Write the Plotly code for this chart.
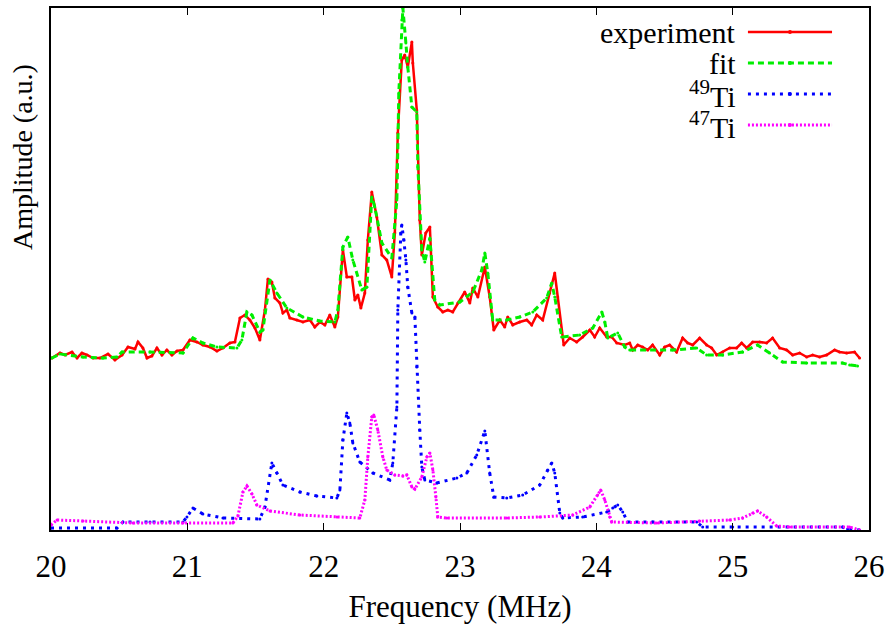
import plotly.graph_objects as go

# ---------------- data (frequency in MHz, amplitude in a.u.) ----------------
freq_exp = [20.007, 20.066, 20.103, 20.154, 20.191, 20.227, 20.264, 20.308, 20.359, 20.418,
            20.469, 20.521, 20.565, 20.616, 20.638, 20.674, 20.704, 20.740, 20.777, 20.814,
            20.850, 20.887, 20.924, 20.968, 21.019, 21.070, 21.114, 21.166, 21.217, 21.261,
            21.312, 21.349, 21.386, 21.422, 21.459, 21.496, 21.532, 21.569, 21.591, 21.620,
            21.642, 21.679, 21.701, 21.730, 21.752, 21.804, 21.848, 21.899, 21.935, 21.972,
            22.009, 22.045, 22.082, 22.104, 22.141, 22.170, 22.207, 22.229, 22.251, 22.273,
            22.302, 22.324, 22.353, 22.390, 22.427, 22.463, 22.500, 22.522, 22.544, 22.573,
            22.595, 22.617, 22.647, 22.654, 22.683, 22.705, 22.720, 22.749, 22.779, 22.801,
            22.837, 22.874, 22.911, 22.947, 22.984, 23.035, 23.072, 23.094, 23.131, 23.182,
            23.218, 23.248, 23.292, 23.328, 23.350, 23.387, 23.438, 23.490, 23.526, 23.563,
            23.607, 23.658, 23.695, 23.717, 23.761, 23.805, 23.856, 23.900, 23.952, 23.988,
            24.025, 24.076, 24.113, 24.150, 24.208, 24.245, 24.267, 24.304, 24.340, 24.377,
            24.413, 24.465, 24.501, 24.538, 24.589, 24.633, 24.670, 24.707, 24.758, 24.809,
            24.846, 24.883, 24.927, 24.978, 25.029, 25.066, 25.103, 25.147, 25.198, 25.249,
            25.293, 25.345, 25.396, 25.440, 25.491, 25.543, 25.587, 25.638, 25.689, 25.748,
            25.784, 25.836, 25.894, 25.931]
amp_exp = [1.72, 1.77, 1.75, 1.78, 1.72, 1.77, 1.75, 1.72, 1.72, 1.76,
           1.70, 1.75, 1.83, 1.81, 1.88, 1.82, 1.72, 1.74, 1.82, 1.75,
           1.80, 1.75, 1.79, 1.80, 1.90, 1.88, 1.85, 1.83, 1.79, 1.82,
           1.87, 1.88, 2.12, 2.15, 2.10, 2.02, 1.90, 2.20, 2.51, 2.48,
           2.32, 2.27, 2.17, 2.20, 2.12, 2.10, 2.08, 2.10, 2.03, 2.08,
           2.05, 2.15, 2.03, 2.13, 2.80, 2.53, 2.53, 2.30, 2.35, 2.22,
           2.37, 2.90, 3.38, 3.13, 2.75, 2.70, 2.53, 2.97, 3.97, 4.70,
           4.75, 4.63, 4.88, 4.67, 4.20, 3.10, 2.75, 2.97, 3.03, 2.33,
           2.23, 2.18, 2.20, 2.18, 2.27, 2.38, 2.27, 2.42, 2.33, 2.63,
           2.33, 2.00, 2.10, 2.03, 2.13, 2.05, 2.08, 2.10, 2.05, 2.15,
           2.10, 2.37, 2.57, 2.33, 1.85, 1.92, 1.88, 1.93, 2.00, 1.93,
           2.02, 1.93, 1.93, 1.87, 1.85, 1.87, 1.80, 1.85, 1.83, 1.80,
           1.85, 1.75, 1.83, 1.85, 1.78, 1.92, 1.87, 1.85, 1.92, 1.85,
           1.82, 1.75, 1.78, 1.82, 1.82, 1.87, 1.82, 1.88, 1.88, 1.87,
           1.92, 1.82, 1.80, 1.75, 1.77, 1.73, 1.75, 1.73, 1.75, 1.80,
           1.78, 1.77, 1.78, 1.72]

freq_fit = [20.007, 20.066, 20.235, 20.381, 20.484, 20.521, 20.726, 20.968, 21.041, 21.114,
            21.217, 21.364, 21.400, 21.437, 21.474, 21.532, 21.554, 21.606, 21.657, 21.730,
            21.848, 21.972, 22.082, 22.104, 22.141, 22.177, 22.214, 22.280, 22.317, 22.353,
            22.375, 22.427, 22.500, 22.537, 22.551, 22.573, 22.581, 22.603, 22.617, 22.647,
            22.683, 22.691, 22.720, 22.742, 22.779, 22.815, 22.852, 22.999, 23.094, 23.160,
            23.182, 23.204, 23.240, 23.343, 23.438, 23.534, 23.636, 23.673, 23.695, 23.746,
            23.878, 23.974, 24.040, 24.062, 24.084, 24.157, 24.208, 24.245, 24.560, 24.736,
            24.809, 24.927, 25.073, 25.183, 25.271, 25.367, 25.543, 25.806, 25.858, 25.916]
amp_fit = [1.72, 1.76, 1.73, 1.72, 1.73, 1.78, 1.78, 1.77, 1.92, 1.87,
           1.83, 1.82, 1.90, 2.18, 2.15, 1.98, 2.00, 2.50, 2.37, 2.22,
           2.13, 2.09, 2.08, 2.20, 2.83, 2.93, 2.70, 2.40, 2.43, 3.33,
           3.23, 2.87, 2.72, 3.30, 4.37, 5.10, 5.22, 4.87, 4.63, 4.23,
           4.18, 3.63, 2.80, 2.68, 2.92, 2.30, 2.25, 2.28, 2.38, 2.60,
           2.77, 2.57, 2.10, 2.10, 2.13, 2.18, 2.32, 2.47, 2.33, 1.93,
           1.95, 2.02, 2.18, 2.08, 1.92, 1.97, 1.83, 1.80, 1.80, 1.82,
           1.75, 1.75, 1.78, 1.85, 1.77, 1.68, 1.67, 1.67, 1.65, 1.64]

freq_ti49 = [20.000, 20.484, 20.528, 20.726, 20.968, 20.997, 21.041, 21.114, 21.261, 21.532,
             21.569, 21.620, 21.657, 21.701, 21.826, 21.950, 22.097, 22.119, 22.141, 22.170,
             22.192, 22.214, 22.265, 22.361, 22.485, 22.507, 22.537, 22.544, 22.566, 22.573,
             22.588, 22.603, 22.617, 22.647, 22.669, 22.683, 22.705, 22.720, 22.742, 22.830,
             22.977, 23.050, 23.123, 23.182, 23.218, 23.248, 23.343, 23.460, 23.585, 23.644,
             23.673, 23.695, 23.732, 23.754, 23.900, 24.076, 24.120, 24.157, 24.194, 24.230,
             24.413, 24.736, 24.780, 25.000, 25.806, 25.843, 25.931]
amp_ti49 = [0.02, 0.02, 0.08, 0.08, 0.08, 0.13, 0.22, 0.16, 0.12, 0.11,
            0.23, 0.67, 0.57, 0.45, 0.38, 0.34, 0.32, 0.40, 0.90, 1.17,
            1.07, 0.87, 0.68, 0.57, 0.50, 0.67, 1.23, 2.20, 2.97, 3.05,
            2.90, 2.70, 2.43, 2.17, 2.13, 1.63, 1.00, 0.63, 0.50, 0.47,
            0.52, 0.57, 0.75, 0.99, 0.57, 0.33, 0.32, 0.35, 0.45, 0.60,
            0.67, 0.57, 0.17, 0.12, 0.13, 0.18, 0.22, 0.25, 0.18, 0.08,
            0.08, 0.08, 0.03, 0.03, 0.03, 0.01, 0.00]

freq_ti47 = [20.000, 20.044, 20.235, 20.601, 20.968, 21.334, 21.371, 21.408, 21.437, 21.474,
             21.510, 21.606, 21.826, 22.097, 22.265, 22.302, 22.324, 22.353, 22.368, 22.397,
             22.434, 22.463, 22.522, 22.581, 22.610, 22.647, 22.669, 22.720, 22.757, 22.779,
             22.801, 22.823, 22.837, 22.903, 23.343, 23.585, 23.827, 23.952, 24.010, 24.032,
             24.062, 24.098, 24.113, 24.443, 24.758, 24.978, 25.073, 25.147, 25.183, 25.249,
             25.323, 25.418, 25.858, 25.931]
amp_ti47 = [0.05, 0.10, 0.09, 0.07, 0.07, 0.07, 0.14, 0.38, 0.44, 0.36,
            0.25, 0.19, 0.15, 0.13, 0.12, 0.30, 0.73, 1.13, 1.15, 1.00,
            0.73, 0.60, 0.55, 0.54, 0.55, 0.43, 0.41, 0.53, 0.73, 0.77,
            0.60, 0.33, 0.13, 0.12, 0.12, 0.13, 0.15, 0.23, 0.35, 0.40,
            0.30, 0.13, 0.08, 0.07, 0.09, 0.10, 0.12, 0.17, 0.19, 0.13,
            0.04, 0.03, 0.03, 0.00]

x_ticks = [20, 21, 22, 23, 24, 25, 26]
series_names = ["experiment", "fit", "<sup>49</sup>Ti", "<sup>47</sup>Ti"]
series_colors = ["#ff0000", "#00ee00", "#0000ff", "#ff00ff"]
series_dash = ["solid", "6px,4px", "3px,5px", "2px,2px"]
series_width = [2.5, 3, 3, 3]

FONT = "Liberation Serif"
FS = 31

fig = go.Figure()
series = [(freq_exp, amp_exp), (freq_fit, amp_fit), (freq_ti49, amp_ti49), (freq_ti47, amp_ti47)]
for i in [0, 1, 2, 3]:
    xs, ys = series[i]
    fig.add_trace(go.Scatter(
        x=xs, y=ys, mode="lines+markers", name=series_names[i],
        line=dict(color=series_colors[i], width=series_width[i], dash=series_dash[i]),
        marker=dict(color=series_colors[i], size=3),
        showlegend=False,
    ))

# custom gnuplot-style legend (text left, sample right)
row_y = [0.954, 0.8946, 0.8352, 0.7759]
shapes = []
annotations = []
for i in range(4):
    annotations.append(dict(
        x=0.840, y=row_y[i], xref="paper", yref="paper",
        text=series_names[i], showarrow=False, xanchor="right", yanchor="middle",
        font=dict(family=FONT, size=30, color="black"),
    ))
    shapes.append(dict(
        type="line", xref="paper", yref="paper",
        x0=0.852, x1=0.9548, y0=row_y[i], y1=row_y[i],
        line=dict(color=series_colors[i], width=series_width[i], dash=series_dash[i]),
    ))
    shapes.append(dict(
        type="circle", xref="paper", yref="paper", xsizemode="pixel", ysizemode="pixel",
        xanchor=0.9034, yanchor=row_y[i], x0=-2, x1=2, y0=-2, y1=2,
        fillcolor=series_colors[i], line=dict(width=0),
    ))

annotations.append(dict(
    x=-0.034, y=0.715, xref="paper", yref="paper", text="Amplitude (a.u.)",
    textangle=-90, showarrow=False, xanchor="center", yanchor="middle",
    font=dict(family=FONT, size=28, color="black"),
))

fig.update_layout(
    width=891, height=624,
    margin=dict(l=51, r=22, t=8, b=94),
    paper_bgcolor="white", plot_bgcolor="white",
    font=dict(family=FONT, size=FS, color="black"),
    shapes=shapes, annotations=annotations,
    showlegend=False,
)
fig.update_xaxes(
    range=[20, 26], tickvals=x_ticks, ticktext=[str(t) for t in x_ticks],
    ticks="inside", ticklen=7, tickwidth=1.3, tickcolor="black",
    showline=True, linewidth=1.5, linecolor="black", mirror="ticks",
    showgrid=False, zeroline=False, ticklabelstandoff=8, automargin=False,
    title=dict(text="Frequency (MHz)", font=dict(family=FONT, size=FS), standoff=12),
    tickfont=dict(family=FONT, size=FS),
)
fig.update_yaxes(
    range=[0, 5.22], showticklabels=False, ticks="",
    showline=True, linewidth=1.5, linecolor="black", mirror=True,
    showgrid=False, zeroline=False, automargin=False,
)

fig.write_html("out.html")
